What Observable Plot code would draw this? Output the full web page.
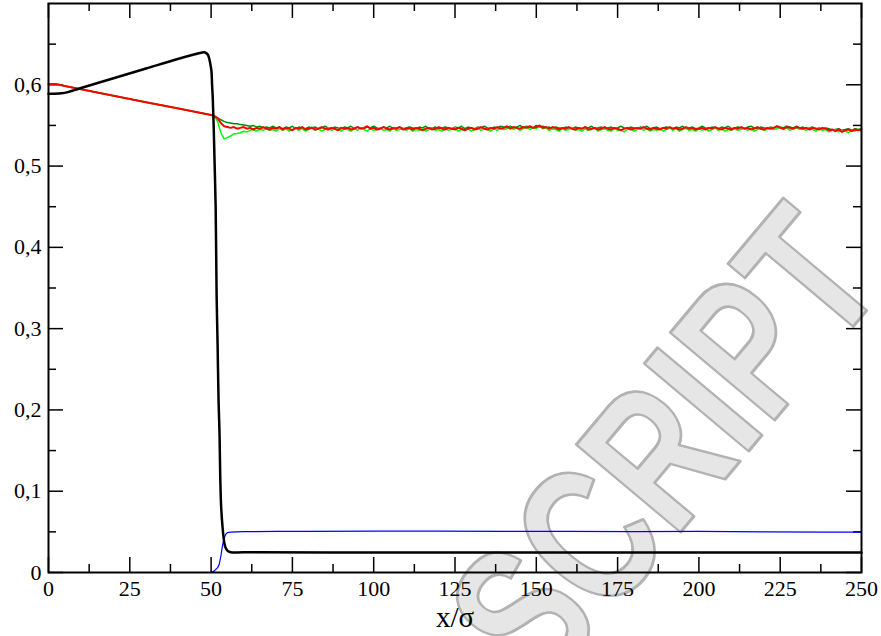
<!DOCTYPE html>
<html><head><meta charset="utf-8">
<script src="https://cdn.jsdelivr.net/npm/d3@7"></script>
<script src="https://cdn.jsdelivr.net/npm/@observablehq/plot@0.6"></script>
<style>
body{margin:0;background:#fff}
#chart text { font-family: "Liberation Serif", "Times New Roman", serif; }
#chart text.wm { font-family: "Liberation Sans", Arial, sans-serif; }
</style>
</head><body><div id="chart"></div>
<script>
// ---- tick values / labels ----
const xMajor = [0,25,50,75,100,125,150,175,200,225,250];
const xMinor = [12.5,37.5,62.5,87.5,112.5,137.5,162.5,187.5,212.5,237.5];
const yMajor = [0,0.1,0.2,0.3,0.4,0.5,0.6];
const yLabels = ["0","0,1","0,2","0,3","0,4","0,5","0,6"];
const yMinor = [0.05,0.15,0.25,0.35,0.45,0.55,0.65];

// ---- black curve ----
const blackX = [0,2,4,6,8,10,20,30,40,45,46.5,47.8,48.5,49,49.3,49.7,50.1,50.3,50.5,50.8,51.1,51.4,51.7,52.0,52.3,52.6,52.8,53.1,53.6,54.0,54.4,55,56,60,100,150,200,250];
const blackY = [0.589,0.589,0.5895,0.591,0.5935,0.596,0.608,0.620,0.632,0.6375,0.639,0.640,0.639,0.637,0.634,0.627,0.617,0.60,0.585,0.548,0.50,0.45,0.34,0.28,0.21,0.17,0.12,0.08,0.052,0.038,0.031,0.027,0.025,0.0248,0.0245,0.0245,0.0245,0.0245];

// ---- blue curve ----
const blueX = [0,50,51,52,52.5,53,53.5,54,54.5,55,56,58,60,70,80,100,120,140,160,180,200,220,240,250];
const blueY = [0,0,0.002,0.006,0.010,0.020,0.033,0.042,0.047,0.049,0.0497,0.050,0.0502,0.0505,0.0507,0.051,0.0508,0.0506,0.0505,0.0503,0.0505,0.0499,0.0497,0.0496];

// ---- common smooth part of red / green curves (x 0..51) ----
const preX = [0,2,3,4,5,10,20,30,40,50,51];
const preY = [0.601,0.601,0.6005,0.5995,0.5985,0.5945,0.5866,0.5786,0.5707,0.5628,0.5615];

// ---- noisy part, one value per unit of x from 52 to 250 ----
const noisyStart = 52;
const redY = [
0.559,0.553,0.549,0.548,0.547,0.548,0.546,0.547,0.548,0.546,
0.547,0.545,0.547,0.546,0.548,0.546,0.545,0.547,0.546,0.548,
0.545,0.547,0.546,0.544,0.547,0.546,0.548,0.545,0.546,0.547,
0.545,0.546,0.548,0.546,0.545,0.547,0.546,0.544,0.547,0.546,
0.547,0.545,0.546,0.548,0.546,0.547,0.549,0.546,0.547,0.545,
0.546,0.548,0.546,0.545,0.547,0.546,0.548,0.545,0.546,0.547,
0.545,0.547,0.546,0.544,0.546,0.547,0.545,0.546,0.548,0.546,
0.545,0.547,0.546,0.545,0.547,0.546,0.544,0.546,0.547,0.545,
0.546,0.548,0.546,0.545,0.547,0.546,0.548,0.546,0.547,0.549,
0.546,0.548,0.547,0.546,0.548,0.547,0.549,0.547,0.548,0.550,
0.547,0.548,0.546,0.548,0.547,0.545,0.547,0.546,0.548,0.546,
0.545,0.547,0.546,0.548,0.545,0.546,0.547,0.545,0.546,0.548,
0.546,0.545,0.547,0.546,0.544,0.546,0.547,0.545,0.546,0.547,
0.546,0.548,0.546,0.545,0.547,0.546,0.545,0.547,0.546,0.548,
0.546,0.547,0.545,0.546,0.548,0.546,0.547,0.545,0.546,0.547,
0.545,0.547,0.546,0.548,0.546,0.545,0.547,0.546,0.545,0.547,
0.546,0.548,0.546,0.547,0.545,0.546,0.548,0.546,0.545,0.547,
0.546,0.547,0.549,0.547,0.546,0.548,0.547,0.546,0.548,0.547,
0.546,0.547,0.545,0.547,0.546,0.545,0.547,0.546,0.544,0.545,
0.543,0.545,0.542,0.544,0.545,0.543,0.545,0.544,0.545];
const lightGreenY = [
0.555,0.541,0.5335,0.535,0.537,0.5395,0.540,0.541,0.5428,0.542,
0.544,0.545,0.543,0.545,0.544,0.546,0.544,0.545,0.543,0.546,
0.544,0.546,0.543,0.545,0.547,0.544,0.546,0.543,0.545,0.548,
0.544,0.546,0.543,0.545,0.547,0.544,0.546,0.545,0.543,0.546,
0.545,0.543,0.546,0.544,0.547,0.545,0.543,0.546,0.544,0.545,
0.547,0.544,0.545,0.543,0.546,0.544,0.545,0.547,0.544,0.546,
0.543,0.545,0.544,0.546,0.543,0.545,0.547,0.544,0.545,0.543,
0.546,0.544,0.545,0.547,0.543,0.545,0.544,0.546,0.543,0.545,
0.547,0.544,0.546,0.545,0.543,0.546,0.544,0.547,0.545,0.546,
0.548,0.545,0.547,0.544,0.546,0.548,0.545,0.547,0.546,0.549,
0.546,0.547,0.544,0.546,0.545,0.543,0.546,0.544,0.545,0.547,
0.544,0.545,0.543,0.546,0.544,0.545,0.547,0.543,0.545,0.546,
0.544,0.543,0.546,0.544,0.545,0.542,0.545,0.546,0.543,0.545,
0.547,0.544,0.546,0.543,0.545,0.544,0.546,0.543,0.545,0.547,
0.544,0.546,0.543,0.545,0.547,0.544,0.545,0.543,0.546,0.544,
0.546,0.543,0.545,0.547,0.544,0.546,0.543,0.545,0.544,0.546,
0.544,0.545,0.547,0.544,0.546,0.543,0.545,0.546,0.544,0.545,
0.547,0.545,0.546,0.548,0.545,0.547,0.544,0.546,0.547,0.545,
0.546,0.544,0.547,0.545,0.543,0.546,0.544,0.545,0.542,0.544,
0.545,0.542,0.544,0.543,0.541,0.544,0.543,0.545,0.543];
const darkGreenY = [
0.559,0.557,0.555,0.5535,0.553,0.552,0.552,0.551,0.5505,0.550,
0.549,0.550,0.548,0.549,0.547,0.548,0.547,0.549,0.547,0.548,
0.546,0.548,0.547,0.549,0.546,0.548,0.547,0.546,0.548,0.547,
0.548,0.546,0.547,0.549,0.547,0.546,0.548,0.547,0.546,0.548,
0.547,0.549,0.546,0.548,0.547,0.546,0.548,0.547,0.549,0.547,
0.546,0.548,0.547,0.549,0.546,0.547,0.548,0.546,0.547,0.548,
0.547,0.546,0.548,0.547,0.549,0.546,0.547,0.548,0.546,0.547,
0.548,0.547,0.546,0.548,0.547,0.549,0.546,0.548,0.547,0.546,
0.548,0.547,0.549,0.547,0.546,0.548,0.547,0.549,0.548,0.547,
0.549,0.547,0.548,0.550,0.547,0.549,0.548,0.547,0.550,0.548,
0.549,0.547,0.548,0.546,0.548,0.547,0.546,0.548,0.547,0.546,
0.548,0.547,0.546,0.548,0.547,0.549,0.546,0.547,0.548,0.546,
0.547,0.548,0.546,0.547,0.549,0.547,0.546,0.548,0.547,0.546,
0.548,0.547,0.549,0.546,0.547,0.548,0.546,0.547,0.548,0.547,
0.546,0.548,0.547,0.549,0.546,0.547,0.548,0.546,0.547,0.549,
0.547,0.546,0.548,0.547,0.546,0.548,0.547,0.549,0.546,0.547,
0.548,0.547,0.546,0.548,0.549,0.547,0.546,0.548,0.547,0.546,
0.548,0.547,0.549,0.548,0.547,0.549,0.548,0.547,0.549,0.547,
0.548,0.546,0.547,0.548,0.546,0.547,0.545,0.547,0.546,0.544,
0.545,0.546,0.544,0.545,0.546,0.544,0.546,0.545,0.546];

const W = 881, H = 636, mL = 48, mR = 20, mT = 3, mB = 64;
const plotW = W - mL - mR, plotH = H - mT - mB;
const majorLen = 15, minorLen = 8;

const pts = (xs, ys) => xs.map((x, i) => ({x, y: ys[i]}));
const noisy = ys => preX.map((x, i) => ({x, y: preY[i]}))
  .concat(ys.map((y, i) => ({x: noisyStart + i, y})));

const serif = "Liberation Serif";

const chart = Plot.plot({
  width: W, height: H,
  marginLeft: mL, marginRight: mR, marginTop: mT, marginBottom: mB,
  style: {fontFamily: serif, fontSize: "22px", color: "#000", background: "#fff"},
  x: {domain: [0, 250], ticks: xMajor, tickSize: 0, tickPadding: 8, tickFormat: d => String(d), label: null},
  y: {domain: [0, 0.7], ticks: yMajor, tickSize: 0, tickPadding: 7,
      tickFormat: d => yLabels[yMajor.findIndex(v => Math.abs(v - d) < 1e-9)], label: null},
  marks: [
    Plot.tickX(xMajor, {x: d => d, insetTop: plotH - majorLen, stroke: "#000", strokeWidth: 1.5}),
    Plot.tickX(xMinor, {x: d => d, insetTop: plotH - minorLen, stroke: "#000", strokeWidth: 1.5}),
    Plot.tickX(xMajor, {x: d => d, insetBottom: plotH - majorLen, stroke: "#000", strokeWidth: 1.5}),
    Plot.tickX(xMinor, {x: d => d, insetBottom: plotH - minorLen, stroke: "#000", strokeWidth: 1.5}),
    Plot.tickY(yMajor, {y: d => d, insetRight: plotW - majorLen, stroke: "#000", strokeWidth: 1.5}),
    Plot.tickY(yMinor, {y: d => d, insetRight: plotW - minorLen, stroke: "#000", strokeWidth: 1.5}),
    Plot.tickY(yMajor, {y: d => d, insetLeft: plotW - majorLen, stroke: "#000", strokeWidth: 1.5}),
    Plot.tickY(yMinor, {y: d => d, insetLeft: plotW - minorLen, stroke: "#000", strokeWidth: 1.5}),
    Plot.line(pts(blueX, blueY), {x: "x", y: "y", stroke: "#0000ff", strokeWidth: 1.2}),
    Plot.line(noisy(darkGreenY), {x: "x", y: "y", stroke: "#008b00", strokeWidth: 1.5}),
    Plot.line(noisy(lightGreenY), {x: "x", y: "y", stroke: "#00ff00", strokeWidth: 1.5}),
    Plot.line(noisy(redY), {x: "x", y: "y", stroke: "#ff0000", strokeWidth: 2}),
    Plot.line(pts(blackX, blackY), {x: "x", y: "y", stroke: "#000", strokeWidth: 2.5, curve: "catmull-rom"}),
    Plot.frame({stroke: "#000", strokeWidth: 2}),
    Plot.text(["x/σ"], {frameAnchor: "bottom", text: d => d, dy: 54, fontSize: 29, fontFamily: serif, fill: "#000"})
  ]
});

// watermark
const svg = d3.select(chart);
const wm = svg.insert("g", "g").attr("pointer-events", "none");
wm.append("text")
  .attr("class", "wm")
  .attr("transform", "translate(716,490) rotate(-50) scale(0.74,1)")
  .attr("text-anchor", "middle")
  .attr("font-family", "Liberation Sans")
  .attr("font-size", 198)
  .attr("font-weight", "bold")
  .style("fill", "#e6e6e6")
  .style("stroke", "#b2b2b2")
  .style("stroke-width", "3px")
  .style("stroke-linejoin", "round")
  .text("SCRIPT");

document.getElementById("chart").appendChild(chart);
</script></body></html>
